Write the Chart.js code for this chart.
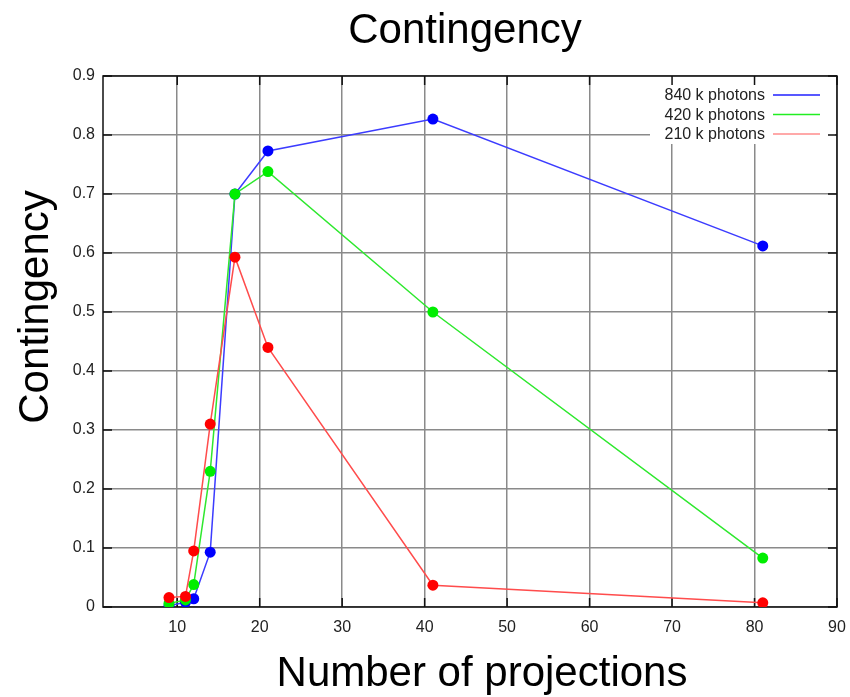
<!DOCTYPE html>
<html>
<head>
<meta charset="utf-8">
<script src="https://cdn.jsdelivr.net/npm/chart.js@4.4.0/dist/chart.umd.min.js"></script>
<style>
  html, body { margin: 0; padding: 0; background: #fff; }
</style>
</head>
<body>
<canvas id="myChart" width="850" height="697"></canvas>
<script>
var projections = [9, 11, 12, 14, 17, 21, 41, 81];
var photons840 = [0.002, 0.008, 0.014, 0.093, 0.700, 0.773, 0.827, 0.612];
var photons420 = [0.006, 0.012, 0.038, 0.230, 0.700, 0.738, 0.500, 0.083];
var photons210 = [0.016, 0.018, 0.095, 0.310, 0.593, 0.440, 0.037, 0.007];
var seriesLabels = ['840 k photons', '420 k photons', '210 k photons'];
var xTicks = [10, 20, 30, 40, 50, 60, 70, 80, 90];
var yTicks = [0, 0.1, 0.2, 0.3, 0.4, 0.5, 0.6, 0.7, 0.8, 0.9];

var FONT = '"Liberation Sans", Arial, Helvetica, sans-serif';

function toPoints(values) {
    return values.map(function (v, i) { return { x: projections[i], y: v }; });
}

// gnuplot style frame, inward tick marks, key box and titles
var gnuplotLook = {
    id: 'gnuplotLook',
    beforeDatasetsDraw: function (chart) {
        var ctx = chart.ctx, a = chart.chartArea;
        var xs = chart.scales.x, ys = chart.scales.y;
        ctx.save();

        // key background hides the grid behind it
        ctx.fillStyle = '#fff';
        ctx.fillRect(650, a.top + 1, a.right - 652, 67);

        ctx.font = '16px ' + FONT;
        ctx.textAlign = 'right';
        ctx.textBaseline = 'middle';
        chart.data.datasets.forEach(function (ds, i) {
            var y = a.top + 19 + i * 19.5;
            ctx.fillStyle = '#222';
            ctx.fillText(ds.label, 765, y + 1);
            ctx.strokeStyle = ds.keyColor;
            ctx.lineWidth = 1.5;
            ctx.beginPath();
            ctx.moveTo(773, y);
            ctx.lineTo(820, y);
            ctx.stroke();
        });

        // frame
        ctx.strokeStyle = '#111';
        ctx.lineWidth = 1.5;
        ctx.strokeRect(a.left, a.top, a.right - a.left, a.bottom - a.top);

        // tick marks on all four sides
        ctx.beginPath();
        xTicks.forEach(function (t) {
            var px = xs.getPixelForValue(t);
            ctx.moveTo(px, a.bottom); ctx.lineTo(px, a.bottom - 9);
            ctx.moveTo(px, a.top); ctx.lineTo(px, a.top + 9);
        });
        yTicks.forEach(function (t) {
            var py = ys.getPixelForValue(t);
            ctx.moveTo(a.left, py); ctx.lineTo(a.left + 9, py);
            ctx.moveTo(a.right, py); ctx.lineTo(a.right - 9, py);
        });
        ctx.stroke();
        ctx.restore();
    },
    afterDraw: function (chart) {
        var ctx = chart.ctx;
        ctx.save();
        ctx.fillStyle = '#000';
        ctx.font = '42px ' + FONT;
        ctx.textAlign = 'center';
        ctx.textBaseline = 'alphabetic';
        ctx.fillText('Contingency', 465, 43);
        ctx.fillText('Number of projections', 482, 686);
        ctx.translate(48, 307);
        ctx.rotate(-Math.PI / 2);
        ctx.fillText('Contingency', 0, 0);
        ctx.restore();
    }
};

var lineColors = ['#3c3cff', '#2ee82e', '#ff4c4c'];
var pointColors = ['#0000ff', '#00ee00', '#ff0000'];
var keyColors = ['#2020ff', '#22ee22', '#ff8c8c'];
var seriesValues = [photons840, photons420, photons210];

var datasets = seriesValues.map(function (vals, i) {
    return {
        label: seriesLabels[i],
        data: toPoints(vals),
        showLine: true,
        borderColor: lineColors[i],
        borderWidth: 1.5,
        backgroundColor: pointColors[i],
        pointBackgroundColor: pointColors[i],
        pointBorderColor: pointColors[i],
        pointBorderWidth: 0,
        pointRadius: 5.5,
        keyColor: keyColors[i],
        order: 2 - i,
        tension: 0
    };
});

var ctx = document.getElementById('myChart').getContext('2d');
var myChart = new Chart(ctx, {
    type: 'scatter',
    data: { datasets: datasets },
    options: {
        responsive: false,
        animation: false,
        layout: { padding: { top: 76, right: 13, left: 0, bottom: 0 } },
        plugins: {
            legend: { display: false },
            title: { display: false },
            tooltip: { enabled: false }
        },
        scales: {
            x: {
                type: 'linear',
                min: 1,
                max: 90,
                afterBuildTicks: function (scale) {
                    scale.ticks = xTicks.map(function (v) { return { value: v }; });
                },
                afterFit: function (scale) {
                    scale.height = 90;
                    scale.paddingLeft = 0;
                    scale.paddingRight = 0;
                },
                grid: { color: '#8a8a8a', lineWidth: 1.5, drawTicks: false },
                border: { display: false },
                ticks: {
                    padding: 11,
                    color: '#222',
                    font: { family: FONT, size: 16 },
                    maxRotation: 0,
                    autoSkip: false
                }
            },
            y: {
                type: 'linear',
                min: 0,
                max: 0.9,
                afterBuildTicks: function (scale) {
                    scale.ticks = yTicks.map(function (v) { return { value: v }; });
                },
                afterFit: function (scale) {
                    scale.width = 103;
                    scale.paddingTop = 0;
                    scale.paddingBottom = 0;
                },
                grid: { color: '#8a8a8a', lineWidth: 1.5, drawTicks: false },
                border: { display: false },
                ticks: {
                    padding: 8,
                    color: '#222',
                    font: { family: FONT, size: 16 },
                    callback: function (v) { return String(Math.round(v * 10) / 10); },
                    autoSkip: false
                }
            }
        }
    },
    plugins: [gnuplotLook]
});
</script>
</body>
</html>
